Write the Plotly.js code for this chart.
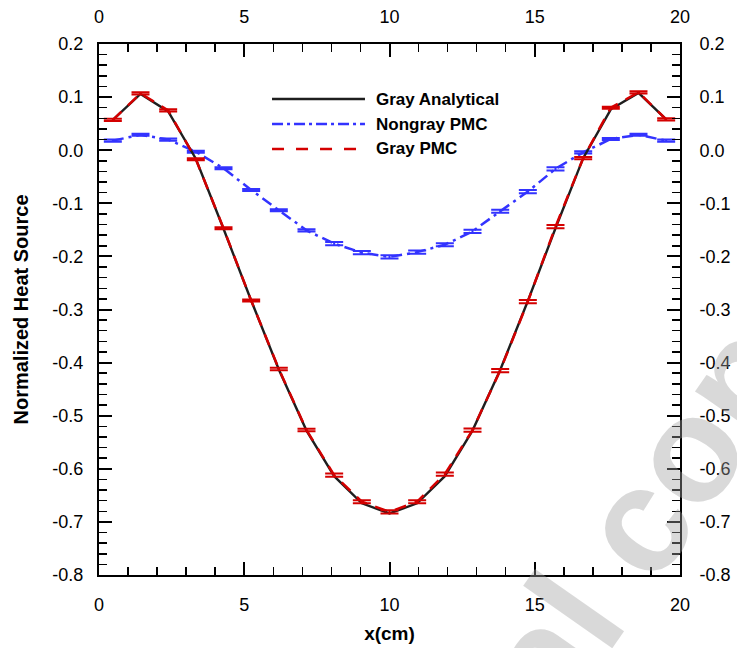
<!DOCTYPE html>
<html>
<head>
<meta charset="utf-8">
<script src="https://cdn.plot.ly/plotly-3.0.1.min.js"></script>
<style>
  html, body { margin: 0; padding: 0; background: #ffffff; }
  #chart { width: 737px; height: 648px; }
</style>
</head>
<body>
<div id="chart"></div>
<script>
// Cell-centre positions (cm)
const xPos = [0.476, 1.429, 2.381, 3.333, 4.286, 5.238, 6.190, 7.143, 8.095, 9.048, 10.0,
              10.952, 11.905, 12.857, 13.810, 14.762, 15.714, 16.667, 17.619, 18.571, 19.524];

// Gray Analytical
const grayAnalytical = [0.057, 0.106, 0.073, -0.016, -0.148, -0.283, -0.413, -0.528, -0.614, -0.665, -0.684,
                        -0.665, -0.614, -0.528, -0.414, -0.284, -0.147, -0.015, 0.077, 0.108, 0.058];

// Nongray PMC
const nongrayPMC = [0.018, 0.029, 0.020, -0.003, -0.034, -0.075, -0.113, -0.151, -0.176, -0.193, -0.201,
                    -0.192, -0.178, -0.153, -0.115, -0.078, -0.035, -0.004, 0.021, 0.029, 0.018];
const nongrayErr = [0.002, 0.002, 0.002, 0.002, 0.002, 0.002, 0.002, 0.002, 0.003, 0.003, 0.003,
                    0.003, 0.003, 0.003, 0.003, 0.003, 0.003, 0.002, 0.002, 0.002, 0.002];

// Gray PMC
const grayPMC = [0.057, 0.107, 0.075, -0.017, -0.147, -0.283, -0.412, -0.527, -0.612, -0.662, -0.681,
                 -0.662, -0.610, -0.527, -0.415, -0.285, -0.144, -0.015, 0.080, 0.109, 0.058];
const grayErr = [0.002, 0.002, 0.002, 0.002, 0.002, 0.002, 0.0025, 0.0025, 0.003, 0.003, 0.003,
                 0.003, 0.003, 0.003, 0.003, 0.003, 0.003, 0.002, 0.002, 0.002, 0.002];

const seriesNames = ['Gray Analytical', 'Nongray PMC', 'Gray PMC'];
const xTickVals = [0, 5, 10, 15, 20];
const yTickVals = [-0.8, -0.7, -0.6, -0.5, -0.4, -0.3, -0.2, -0.1, 0.0, 0.1, 0.2];
const yTickText = ['-0.8', '-0.7', '-0.6', '-0.5', '-0.4', '-0.3', '-0.2', '-0.1', '0.0', '0.1', '0.2'];

const BLACK = '#1e1e1e', BLUE = '#3333ff', RED = '#d40000';
const FONT = 'Liberation Sans, Arial, Helvetica, sans-serif';

const traces = [
  {
    x: xPos, y: nongrayPMC, name: seriesNames[1], type: 'scatter', mode: 'lines',
    line: {color: BLUE, width: 2.5, dash: '11px,5px,3px,5px'},
    error_y: {type: 'data', array: nongrayErr, visible: true, color: BLUE, thickness: 2, width: 9},
    showlegend: false, hoverinfo: 'skip'
  },
  {
    x: xPos, y: grayAnalytical, name: seriesNames[0], type: 'scatter', mode: 'lines',
    line: {color: BLACK, width: 2.4},
    showlegend: false, hoverinfo: 'skip'
  },
  {
    x: xPos, y: grayPMC, name: seriesNames[2], type: 'scatter', mode: 'lines',
    line: {color: RED, width: 2.5, dash: '12px,9px'},
    error_y: {type: 'data', array: grayErr, visible: true, color: RED, thickness: 2, width: 9},
    showlegend: false, hoverinfo: 'skip'
  },
  { x: [], y: [], xaxis: 'x2', yaxis: 'y2', type: 'scatter', mode: 'lines', showlegend: false, hoverinfo: 'skip' }
];

const axisCommon = {
  showgrid: false, zeroline: false, showline: true, linecolor: '#000', linewidth: 2,
  ticks: 'inside', ticklen: 13, tickwidth: 2, tickcolor: '#000',
  tickfont: {family: FONT, size: 18, color: '#000'}
};

// legend drawn as shapes + text (long line samples)
const legX0 = 0.2978, legX1 = 0.4578, legTX = 0.473;
const legY = [0.8964, 0.8493, 0.8023];
const legStyles = [
  {color: BLACK, width: 2.5, dash: 'solid'},
  {color: BLUE, width: 2.5, dash: '11px,4px,3px,4px'},
  {color: RED, width: 2.5, dash: '12px,12px'}
];
const shapes = legY.map((yy, i) => ({
  type: 'line', xref: 'paper', yref: 'paper', x0: legX0, x1: legX1, y0: yy, y1: yy, line: legStyles[i]
}));
const annotations = legY.map((yy, i) => ({
  xref: 'paper', yref: 'paper', x: legTX, y: yy, xanchor: 'left', yanchor: 'middle',
  text: seriesNames[i], showarrow: false,
  font: {family: FONT, size: 17, color: '#000', weight: 'bold'}
}));
// faint diagonal watermark, mostly off the page as in the reference
annotations.push({
  xref: 'paper', yref: 'paper', x: 0.403, y: -0.7175, xanchor: 'center', yanchor: 'middle',
  text: "Author's personal copy", showarrow: false, textangle: -55,
  font: {family: FONT, size: 150, color: 'rgba(160,160,160,0.4)', weight: 'bold'}
});

const layout = {
  width: 737, height: 648,
  margin: {l: 99, r: 57, t: 44, b: 73, pad: 0},
  paper_bgcolor: '#fff', plot_bgcolor: '#fff',
  showlegend: false,
  xaxis: Object.assign({}, axisCommon, {
    range: [0, 20], tickvals: xTickVals, ticklabelstandoff: 12,
    minor: {dtick: 1, ticks: 'inside', ticklen: 8, tickwidth: 1.5, tickcolor: '#000'},
    title: {text: 'x(cm)', standoff: 13, font: {family: FONT, size: 19, color: '#000', weight: 'bold'}}
  }),
  xaxis2: Object.assign({}, axisCommon, {
    range: [0, 20], tickvals: xTickVals, overlaying: 'x', side: 'top', anchor: 'y2', ticklabelstandoff: 12,
    minor: {dtick: 1, ticks: 'inside', ticklen: 8, tickwidth: 1.5, tickcolor: '#000'}
  }),
  yaxis: Object.assign({}, axisCommon, {
    range: [-0.8, 0.2], tickvals: yTickVals, ticktext: yTickText, ticklabelstandoff: 10,
    minor: {dtick: 0.02, ticks: 'inside', ticklen: 8, tickwidth: 1.5, tickcolor: '#000'},
    title: {text: 'Normalized Heat Source', standoff: 18, font: {family: FONT, size: 20, color: '#000', weight: 'bold'}}
  }),
  yaxis2: Object.assign({}, axisCommon, {
    range: [-0.8, 0.2], tickvals: yTickVals, ticktext: yTickText, overlaying: 'y', side: 'right', anchor: 'x2',
    ticklabelstandoff: 14,
    minor: {dtick: 0.02, ticks: 'inside', ticklen: 8, tickwidth: 1.5, tickcolor: '#000'}
  }),
  shapes: shapes,
  annotations: annotations
};

Plotly.newPlot('chart', traces, layout, {staticPlot: true, displayModeBar: false});
</script>
</body>
</html>
